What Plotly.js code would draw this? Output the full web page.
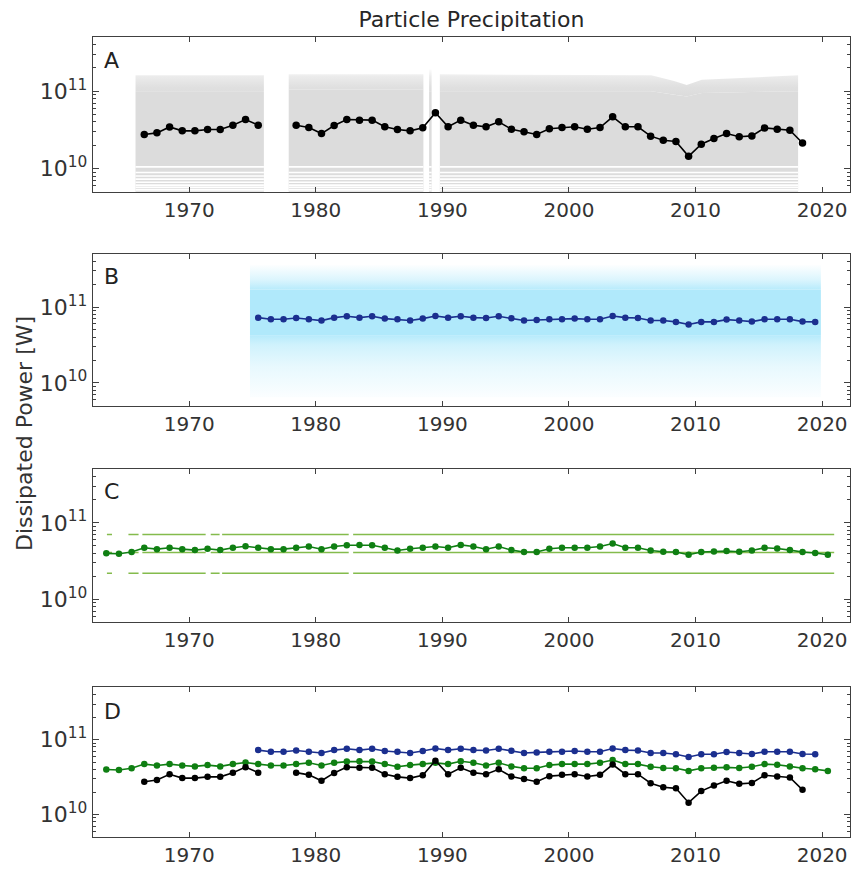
<!DOCTYPE html>
<html><head><meta charset="utf-8">
<script src="https://cdn.plot.ly/plotly-3.0.1.min.js"></script>
<style>html,body{margin:0;padding:0;background:#fff}#chart{width:857px;height:871px}</style>
</head><body><div id="chart"></div>
<script>
// ---------------- data ----------------
// Panel A: yearly means (black)
const yearsA = [1966,1967,1968,1969,1970,1971,1972,1973,1974,1975,
  1978,1979,1980,1981,1982,1983,1984,1985,1986,1987,1988,1989,1990,1991,1992,1993,1994,1995,1996,1997,
  1998,1999,2000,2001,2002,2003,2004,2005,2006,2007,2008,2009,2010,2011,2012,2013,2014,2015,2016,2017,2018];
const valuesA = [2.75e10,2.89e10,3.45e10,3.07e10,3.07e10,3.19e10,3.19e10,3.63e10,4.30e10,3.63e10,
  3.63e10,3.39e10,2.83e10,3.60e10,4.30e10,4.22e10,4.22e10,3.46e10,3.19e10,3.07e10,3.36e10,5.25e10,3.46e10,4.22e10,3.63e10,3.46e10,4.02e10,3.22e10,2.98e10,2.75e10,
  3.26e10,3.39e10,3.46e10,3.22e10,3.39e10,4.66e10,3.46e10,3.46e10,2.62e10,2.32e10,2.24e10,1.44e10,2.06e10,2.44e10,2.83e10,2.57e10,2.64e10,3.35e10,3.22e10,3.13e10,2.14e10];

// Panel A: extent of the raw (daily) cloud, per data segment
const grayX = [[1965.76,1975.9],[1977.86,1988.5],[1988.95,1989.15],[1989.8,2006.5,2008.3,2009.3,2010.5,2018.1]];
const graySolidTop = [[1.0e11,1.0e11],[1.05e11,1.05e11],[1.0e11,1.0e11],[1.0e11,1.0e11,9.0e10,8.5e10,9.5e10,1.0e11]];
const graySpeckTop = [[1.6e11,1.6e11],[1.65e11,1.65e11],[1.9e11,1.9e11],[1.65e11,1.6e11,1.35e11,1.2e11,1.4e11,1.6e11]];
const grayStripeLevels = [1.05e10,8.9e9,8.0e9,7.3e9,6.65e9,6.1e9,5.7e9,5.3e9];

// Panel B: yearly means (navy)
const yearsB = [1975,1976,1977,1978,1979,1980,1981,1982,1983,1984,1985,1986,1987,1988,1989,1990,1991,1992,1993,1994,
  1995,1996,1997,1998,1999,2000,2001,2002,2003,2004,2005,2006,2007,2008,2009,2010,2011,2012,2013,2014,2015,2016,2017,2018,2019];
const valuesB = [7.26e10,6.91e10,6.91e10,7.19e10,6.91e10,6.64e10,7.26e10,7.56e10,7.26e10,7.56e10,7.05e10,6.91e10,6.64e10,7.05e10,7.63e10,7.26e10,7.56e10,7.26e10,7.19e10,7.56e10,
  7.12e10,6.64e10,6.77e10,6.91e10,6.91e10,7.05e10,6.91e10,6.91e10,7.63e10,7.26e10,7.19e10,6.64e10,6.64e10,6.38e10,5.89e10,6.38e10,6.38e10,6.84e10,6.64e10,6.44e10,6.91e10,6.91e10,6.91e10,6.44e10,6.38e10];
// Panel B: extent of raw cloud
const blueStart = 1974.8, blueEnd = 2019.9;
const blueCore = [4.2e10, 1.7e11];
const blueUpper = 3.6e11;
const blueLowerFar = 6.5e9;

// Panel C: yearly means (green)
const yearsC = [1963,1964,1965,1966,1967,1968,1969,1970,1971,1972,1973,1974,1975,1976,1977,1978,1979,1980,1981,1982,
  1983,1984,1985,1986,1987,1988,1989,1990,1991,1992,1993,1994,1995,1996,1997,1998,1999,2000,2001,2002,
  2003,2004,2005,2006,2007,2008,2009,2010,2011,2012,2013,2014,2015,2016,2017,2018,2019,2020];
const valuesC = [3.99e10,3.94e10,4.15e10,4.72e10,4.53e10,4.72e10,4.53e10,4.40e10,4.58e10,4.40e10,4.72e10,4.95e10,4.72e10,4.53e10,4.53e10,4.72e10,4.91e10,4.53e10,4.91e10,5.10e10,
  5.15e10,5.10e10,4.72e10,4.36e10,4.58e10,4.72e10,4.91e10,4.72e10,5.15e10,4.91e10,4.53e10,4.91e10,4.40e10,4.15e10,4.15e10,4.58e10,4.72e10,4.72e10,4.72e10,4.91e10,
  5.36e10,4.72e10,4.72e10,4.36e10,4.19e10,4.15e10,3.83e10,4.15e10,4.23e10,4.27e10,4.19e10,4.36e10,4.72e10,4.62e10,4.40e10,4.15e10,4.03e10,3.83e10];
// Panel C: reference levels and their data segments
const cLevels = [2.2e10, 4.1e10, 7.05e10];
const cSegStart = [1963.5,1965.2,1966.3,1971.7,1972.6,1982.95];
const cSegEnd   = [1963.9,1966.0,1971.3,1972.4,1982.6,2020.95];

const xTicks = [1970,1980,1990,2000,2010,2020];
const yTicks = [1e10,1e11];
const yTickText = ['10<sup>10</sup>','10<sup>11</sup>'];
const yMinor = [6e9,7e9,8e9,9e9,2e10,3e10,4e10,5e10,6e10,7e10,8e10,9e10,2e11,3e11,4e11,5e11];
const panelLetters = ['A','B','C','D'];

// ---------------- helpers ----------------
const MID = 0.45;
const LOW = 1e9;
function withGaps(years, vals){
  const x=[], y=[];
  for(let i=0;i<years.length;i++){
    if(i>0 && years[i]-years[i-1]>1.5){x.push(null);y.push(null);}
    x.push(years[i]+MID); y.push(vals[i]);
  }
  return {x,y};
}
function polys(xsArr, botArr, topArr){
  const x=[], y=[];
  xsArr.forEach((xs,k)=>{
    const bot = botArr[k], top = topArr[k];
    for(let i=0;i<xs.length;i++){x.push(xs[i]); y.push(Array.isArray(top)?top[i]:top);}
    for(let i=xs.length-1;i>=0;i--){x.push(xs[i]); y.push(Array.isArray(bot)?bot[i]:bot);}
    x.push(xs[0]); y.push(Array.isArray(top)?top[0]:top);
    x.push(null); y.push(null);
  });
  return {x,y};
}
function grad(stops){ return {type:'vertical', colorscale:stops}; }

const traces = [];
// ----- Panel A -----
{
  const sp = polys(grayX, graySolidTop, graySpeckTop);
  traces.push({x:sp.x,y:sp.y,xaxis:'x',yaxis:'y',mode:'lines',fill:'toself',
    fillgradient:grad([[0,'rgba(220,220,220,1)'],[0.35,'rgba(220,220,220,0.9)'],[0.75,'rgba(220,220,220,0.55)'],[1,'rgba(220,220,220,0.1)']]),
    line:{width:0},hoverinfo:'skip',showlegend:false});
  const so = polys(grayX, grayX.map(()=>LOW), graySolidTop);
  traces.push({x:so.x,y:so.y,xaxis:'x',yaxis:'y',mode:'lines',fill:'toself',fillcolor:'#dcdcdc',line:{width:0},hoverinfo:'skip',showlegend:false});
  const sx=[], sy=[];
  grayX.forEach(xs=>{ grayStripeLevels.forEach(l=>{ sx.push(xs[0],xs[xs.length-1],null); sy.push(l,l,null); }); });
  traces.push({x:sx,y:sy,xaxis:'x',yaxis:'y',mode:'lines',line:{color:'#ffffff',width:1.6},hoverinfo:'skip',showlegend:false});
  const a = withGaps(yearsA, valuesA);
  traces.push({x:a.x,y:a.y,xaxis:'x',yaxis:'y',mode:'lines+markers',line:{color:'#000',width:1.6},marker:{color:'#000',size:7.5},showlegend:false});
}
// ----- Panel B -----
{
  const bx=[[blueStart,blueEnd]];
  const up = polys(bx,[blueCore[1]],[blueUpper]);
  traces.push({x:up.x,y:up.y,xaxis:'x2',yaxis:'y2',mode:'lines',fill:'toself',
    fillgradient:grad([[0,'rgba(176,233,251,0.9)'],[0.4,'rgba(176,233,251,0.45)'],[1,'rgba(176,233,251,0.02)']]),
    line:{width:0},hoverinfo:'skip',showlegend:false});
  const lo = polys(bx,[blueLowerFar],[blueCore[0]]);
  traces.push({x:lo.x,y:lo.y,xaxis:'x2',yaxis:'y2',mode:'lines',fill:'toself',
    fillgradient:grad([[0,'rgba(176,233,251,0.05)'],[0.5,'rgba(176,233,251,0.3)'],[0.85,'rgba(176,233,251,0.6)'],[1,'rgba(176,233,251,0.9)']]),
    line:{width:0},hoverinfo:'skip',showlegend:false});
  const co = polys(bx,[blueCore[0]],[blueCore[1]]);
  traces.push({x:co.x,y:co.y,xaxis:'x2',yaxis:'y2',mode:'lines',fill:'toself',fillcolor:'#b0e9fb',line:{width:0},hoverinfo:'skip',showlegend:false});
  const b = withGaps(yearsB, valuesB);
  traces.push({x:b.x,y:b.y,xaxis:'x2',yaxis:'y2',mode:'lines+markers',line:{color:'#1b2f8f',width:1.6},marker:{color:'#1b2f8f',size:6.5},showlegend:false});
}
// ----- Panel C -----
{
  cLevels.forEach(l=>{
    const x=[],y=[];
    cSegStart.forEach((s,i)=>{x.push(s,cSegEnd[i],null); y.push(l,l,null);});
    traces.push({x,y,xaxis:'x3',yaxis:'y3',mode:'lines',line:{color:'#84bb4c',width:1.5},hoverinfo:'skip',showlegend:false});
  });
  const c = withGaps(yearsC, valuesC);
  traces.push({x:c.x,y:c.y,xaxis:'x3',yaxis:'y3',mode:'lines+markers',line:{color:'#0f7f12',width:1.6},marker:{color:'#0f7f12',size:6.5},showlegend:false});
}
// ----- Panel D -----
{
  const c = withGaps(yearsC, valuesC);
  traces.push({x:c.x,y:c.y,xaxis:'x4',yaxis:'y4',mode:'lines+markers',line:{color:'#0f7f12',width:1.6},marker:{color:'#0f7f12',size:6.5},showlegend:false});
  const a = withGaps(yearsA, valuesA);
  traces.push({x:a.x,y:a.y,xaxis:'x4',yaxis:'y4',mode:'lines+markers',line:{color:'#000',width:1.6},marker:{color:'#000',size:6.5},showlegend:false});
  const b = withGaps(yearsB, valuesB);
  traces.push({x:b.x,y:b.y,xaxis:'x4',yaxis:'y4',mode:'lines+markers',line:{color:'#1b2f8f',width:1.6},marker:{color:'#1b2f8f',size:6.5},showlegend:false});
}

// ---------------- layout ----------------
const FONT = 'DejaVu Sans';
const domains = [[0.8066,1.0],[0.5391,0.7288],[0.2684,0.4596],[0.0,0.1871]];
const layout = {
  width:857, height:871,
  margin:{l:93,r:7,t:37,b:34},
  paper_bgcolor:'#fff', plot_bgcolor:'#fff',
  font:{family:FONT, color:'#262626'},
  title:{text:'Particle Precipitation', font:{family:FONT,size:22,color:'#262626'}, xref:'paper', x:0.5, xanchor:'center', yref:'container', y:1-19/871, yanchor:'middle'},
  annotations:[],
  showlegend:false
};
const letterY = [0.971,0.701,0.432,0.1575];
for(let i=0;i<4;i++){
  const sx = i===0?'':String(i+1);
  layout['xaxis'+sx] = {
    domain:[0,1], anchor:'y'+sx, range:[1962.4,2022.2],
    tickmode:'array', tickvals:xTicks, ticks:'inside', ticklen:5, tickwidth:1, tickcolor:'#404040',
    showline:true, linecolor:'#404040', linewidth:1.2, mirror:'allticks', showgrid:false, zeroline:false,
    tickfont:{family:FONT,size:20,color:'#333'}
  };
  layout['yaxis'+sx] = {
    domain:domains[i], anchor:'x'+sx, type:'log', range:[9.70,11.70],
    tickmode:'array', tickvals:yTicks, ticktext:yTickText, ticks:'inside', ticklen:6, tickwidth:1, tickcolor:'#404040',
    minor:{tickmode:'array', tickvals:yMinor, ticks:'inside', ticklen:3, tickwidth:1, tickcolor:'#404040', showgrid:false},
    showline:true, linecolor:'#404040', linewidth:1.2, mirror:'allticks', showgrid:false, zeroline:false,
    tickfont:{family:FONT,size:22,color:'#333'}
  };
  layout.annotations.push({text:panelLetters[i], xref:'paper', yref:'paper', x:0.012, y:letterY[i], xanchor:'left', yanchor:'middle', showarrow:false, font:{family:FONT,size:22,color:'#222'}});
}
layout.annotations.push({text:'Dissipated Power [W]', xref:'paper', yref:'paper', x:(24-93)/757, y:(837-434)/800, xanchor:'center', yanchor:'middle', textangle:-90, showarrow:false, font:{family:FONT,size:22,color:'#333'}});

Plotly.newPlot('chart', traces, layout, {staticPlot:true});
</script>
</body></html>
